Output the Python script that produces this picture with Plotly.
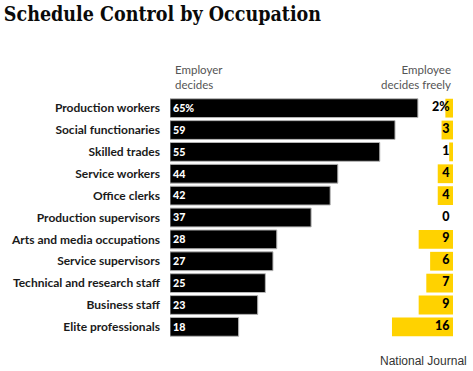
import plotly.graph_objects as go

categories = ["Production workers", "Social functionaries", "Skilled trades", "Service workers",
              "Office clerks", "Production supervisors", "Arts and media occupations",
              "Service supervisors", "Technical and research staff", "Business staff",
              "Elite professionals"]
employer_decides = [65, 59, 55, 44, 42, 37, 28, 27, 25, 23, 18]
employee_decides = [2, 3, 1, 4, 4, 0, 9, 6, 7, 9, 16]
employer_labels = ["65%", "59", "55", "44", "42", "37", "28", "27", "25", "23", "18"]
employee_labels = ["2%", "3", "1", "4", "4", "0", "9", "6", "7", "9", "16"]

AXIS_MAX = 74.2
LABEL_FONT = "Lato"

fig = go.Figure()
fig.add_trace(go.Bar(
    y=categories, x=employer_decides, orientation="h",
    marker=dict(color="#000000", line=dict(color="#b5b5b5", width=1)),
    text=employer_labels, textposition="inside", insidetextanchor="start", textangle=0,
    textfont=dict(family=LABEL_FONT, size=12.5, color="white", weight=900),
    hoverinfo="skip", showlegend=False,
))
fig.add_trace(go.Bar(
    y=categories, x=employee_decides, orientation="h",
    base=[AXIS_MAX - v for v in employee_decides],
    marker=dict(color="#FFD200", line=dict(width=0)),
    hoverinfo="skip", showlegend=False,
))
fig.add_trace(go.Scatter(
    y=categories, x=[AXIS_MAX - 0.9] * len(categories), mode="text",
    text=employee_labels, textposition="middle left",
    textfont=dict(family=LABEL_FONT, size=12.5, color="black", weight=900),
    hoverinfo="skip", showlegend=False, cliponaxis=False,
))

fig.update_layout(
    width=473, height=371,
    margin=dict(l=170, r=20, t=96, b=32, pad=0),
    paper_bgcolor="white", plot_bgcolor="white",
    barmode="overlay", bargap=0.14,
    xaxis=dict(range=[0, AXIS_MAX], visible=False, fixedrange=True),
    yaxis=dict(autorange="reversed", showgrid=False, zeroline=False, showline=False,
               ticks="", ticklabelstandoff=9, fixedrange=True,
               tickfont=dict(family=LABEL_FONT, size=12, color="#1a1a1a", weight="bold")),
    title=dict(text="<b>Schedule Control by Occupation</b>", x=0.008, xanchor="left",
               y=0.962, yanchor="middle",
               font=dict(family="DejaVu Serif Condensed", size=19.5, color="#0a0a0a")),
    annotations=[
        dict(text="Employer<br>decides", x=0, xref="x", xanchor="left", xshift=3,
             y=1.0, yref="paper", yanchor="bottom", yshift=3, showarrow=False, align="left",
             font=dict(family=LABEL_FONT, size=11.5, color="#555")),
        dict(text="Employee<br>decides freely", x=AXIS_MAX, xref="x", xanchor="right", xshift=0,
             y=1.0, yref="paper", yanchor="bottom", yshift=3, showarrow=False, align="right",
             font=dict(family=LABEL_FONT, size=11.5, color="#555")),
        dict(text="National Journal", x=1.0, xref="paper", xanchor="right", xshift=16,
             y=0, yref="paper", yanchor="top", yshift=-13, showarrow=False,
             font=dict(family="Liberation Sans", size=12, color="#333")),
    ],
)

fig.write_html("out.html", config={"displayModeBar": False, "staticPlot": True},
               post_script="document.body.style.margin='0';document.body.style.overflow='hidden';")
